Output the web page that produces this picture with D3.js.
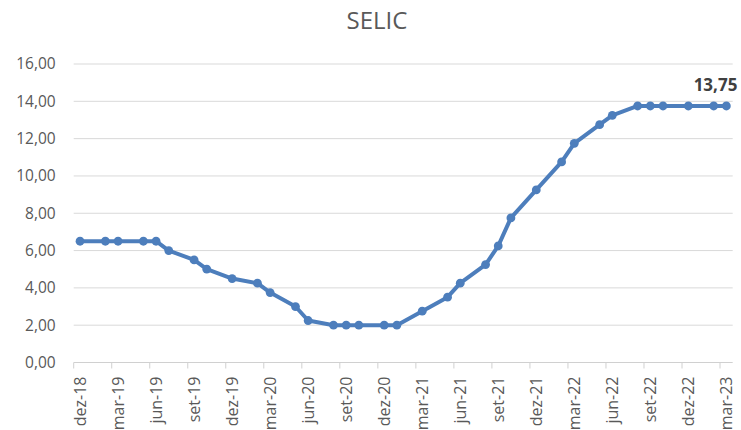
<!DOCTYPE html>
<html>
<head>
<meta charset="utf-8">
<script src="https://cdn.jsdelivr.net/npm/d3@7/dist/d3.min.js"></script>
<style>
  html, body { margin: 0; padding: 0; background: #fff; }
  svg { display: block; font-family: "Open Sans", "DejaVu Sans", sans-serif; }
</style>
</head>
<body>
<svg id="chart" width="741" height="430"></svg>
<script>
// Copom meeting months and the SELIC target set at each meeting (% a.a.)
const meetingMonths = ["dez-18","fev-19","mar-19","mai-19","jun-19","jul-19","set-19","out-19","dez-19",
  "fev-20","mar-20","mai-20","jun-20","ago-20","set-20","out-20","dez-20","jan-21","mar-21","mai-21",
  "jun-21","ago-21","set-21","out-21","dez-21","fev-22","mar-22","mai-22","jun-22","ago-22","set-22",
  "out-22","dez-22","fev-23","mar-23"];
const selicRates = [6.5,6.5,6.5,6.5,6.5,6.0,5.5,5.0,4.5,
  4.25,3.75,3.0,2.25,2.0,2.0,2.0,2.0,2.0,2.75,3.5,
  4.25,5.25,6.25,7.75,9.25,10.75,11.75,12.75,13.25,13.75,13.75,
  13.75,13.75,13.75,13.75];

// Axis categories
const monthNames = ["jan","fev","mar","abr","mai","jun","jul","ago","set","out","nov","dez"];
const years = ["18","19","20","21","22","23"];
const xTickLabels = ["dez-18","mar-19","jun-19","set-19","dez-19","mar-20","jun-20","set-20","dez-20",
  "mar-21","jun-21","set-21","dez-21","mar-22","jun-22","set-22","dez-22","mar-23"];
const yTicks = [0,2,4,6,8,10,12,14,16];
const chartTitle = "SELIC";

// Every month from dez-18 to mar-23 is one equal-width slot on the x axis
const allMonths = [];
years.forEach(yy => monthNames.forEach(m => allMonths.push(m + "-" + yy)));
const months = allMonths.slice(allMonths.indexOf("dez-18"), allMonths.indexOf("mar-23") + 1);

const svg = d3.select("#chart");
const plotLeft = 73.7, plotRight = 732.7, plotTop = 64, plotBottom = 362.5;

const x = d3.scaleBand().domain(months).range([plotLeft, plotRight]).padding(0);
const y = d3.scaleLinear().domain([0, 16]).range([plotBottom, plotTop]);
const fmt = v => d3.format(".2f")(v).replace(".", ",");

// Title
svg.append("text")
  .attr("x", 377).attr("y", 29)
  .attr("text-anchor", "middle")
  .attr("font-size", 24)
  .attr("fill", "#595959")
  .text(chartTitle);

// Horizontal gridlines
svg.append("g").selectAll("line")
  .data(yTicks.filter(d => d > 0))
  .join("line")
  .attr("x1", plotLeft).attr("x2", plotRight)
  .attr("y1", d => y(d)).attr("y2", d => y(d))
  .attr("stroke", "#d9d9d9").attr("stroke-width", 1);

// Y axis labels
const yAxis = d3.axisLeft(y).tickValues(yTicks).tickFormat(fmt).tickSize(0).tickPadding(18);
const gy = svg.append("g").attr("transform", `translate(${plotLeft},0)`).call(yAxis);
gy.select(".domain").remove();
gy.selectAll("text")
  .attr("font-size", 15.5)
  .attr("font-family", "'Open Sans', sans-serif")
  .attr("fill", "#595959");

// X axis: ticks at the start of each quarter's month slot, labels centred on the slot
const gx = svg.append("g").attr("transform", `translate(0,${plotBottom})`);
gx.append("line")
  .attr("x1", plotLeft).attr("x2", plotRight)
  .attr("stroke", "#d0d0d0").attr("stroke-width", 1);
gx.selectAll("line.tick")
  .data(xTickLabels)
  .join("line")
  .attr("class", "tick")
  .attr("x1", d => x(d)).attr("x2", d => x(d))
  .attr("y1", 0).attr("y2", 6)
  .attr("stroke", "#d0d0d0");
gx.selectAll("text")
  .data(xTickLabels)
  .join("text")
  .attr("transform", d => `translate(${x(d) + x.bandwidth() / 2},14) rotate(-90)`)
  .attr("text-anchor", "end")
  .attr("dy", "0.35em")
  .attr("font-size", 16)
  .attr("fill", "#595959")
  .text(d => d);

// Series
const pts = meetingMonths.map((m, i) => ({ m, v: selicRates[i] }));
const cx = d => x(d.m) + x.bandwidth() / 2;
const line = d3.line().x(cx).y(d => y(d.v));
const blue = "#4d7ebc";

svg.append("path")
  .datum(pts)
  .attr("d", line)
  .attr("fill", "none")
  .attr("stroke", blue)
  .attr("stroke-width", 4)
  .attr("stroke-linejoin", "round");

svg.append("g").selectAll("circle")
  .data(pts)
  .join("circle")
  .attr("cx", cx)
  .attr("cy", d => y(d.v))
  .attr("r", 4.4)
  .attr("fill", blue);

// Value label on the latest point
const last = pts[pts.length - 1];
svg.append("text")
  .attr("x", cx(last) + 11)
  .attr("y", y(last.v) - 15)
  .attr("text-anchor", "end")
  .attr("font-size", 17)
  .attr("font-weight", "bold")
  .attr("fill", "#404040")
  .text(fmt(last.v));
</script>
</body>
</html>
